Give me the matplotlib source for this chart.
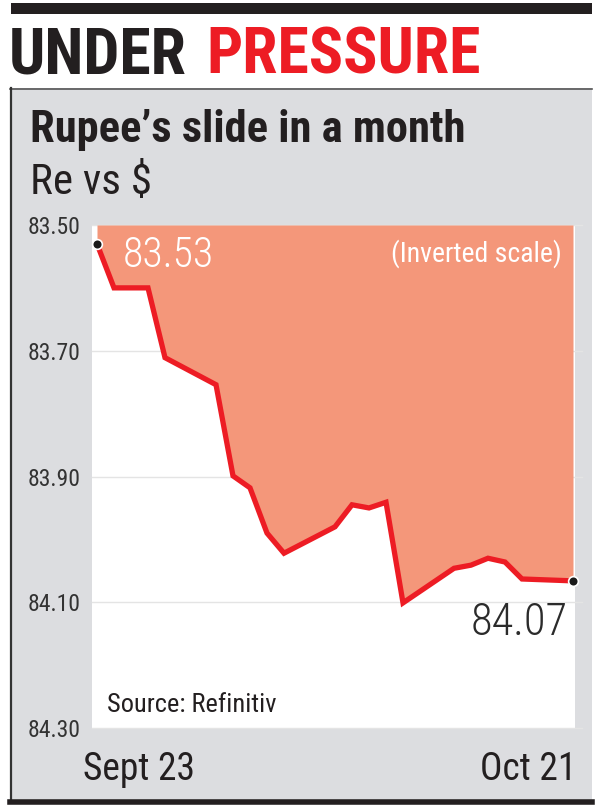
import matplotlib
matplotlib.use('Agg')
import matplotlib.pyplot as plt
from matplotlib.patches import Rectangle
import pandas as pd

# rupee vs dollar, weekdays only (inverted scale)
dates = ['2024-09-23', '2024-09-24', '2024-09-25', '2024-09-26', '2024-09-27',
         '2024-09-30', '2024-10-01', '2024-10-02', '2024-10-03', '2024-10-04',
         '2024-10-07', '2024-10-08', '2024-10-09', '2024-10-10', '2024-10-11',
         '2024-10-14', '2024-10-15', '2024-10-16', '2024-10-17', '2024-10-18',
         '2024-10-21']
rate = [83.530, 83.600, 83.600, 83.600, 83.711,
        83.754, 83.899, 83.918, 83.990, 84.022,
        83.980, 83.945, 83.950, 83.941, 84.101,
        84.046, 84.041, 84.030, 84.036, 84.063,
        84.066]
yticks = [83.50, 83.70, 83.90, 84.10, 84.30]
first_label = 'Sept 23'
last_label = 'Oct 21'

COND = ['Roboto Condensed', 'DejaVu Sans']
DARK = '#231f20'
RED = '#ed1c24'
SALMON = '#f4977a'
GREY = '#dcdde0'

W, H = 600, 808


def fx(px):
    return px / W


def fy(py):
    return 1 - py / H


fig = plt.figure(figsize=(6, 8.08), dpi=100)
fig.patch.set_facecolor('white')

# black rule on top
fig.patches.append(Rectangle((fx(11), fy(14)), fx(592) - fx(11), fy(3) - fy(14),
                             transform=fig.transFigure, facecolor='#231f20',
                             edgecolor='none', zorder=-2))
# grey panel
fig.patches.append(Rectangle((fx(10), fy(802)), fx(592) - fx(10), fy(88) - fy(802),
                             transform=fig.transFigure, facecolor=GREY,
                             edgecolor='none', zorder=-2))
fig.lines.append(plt.Line2D([fx(10), fx(592)], [fy(88.5), fy(88.5)], transform=fig.transFigure,
                            color='#555555', lw=1.2, zorder=-1))
fig.lines.append(plt.Line2D([fx(11), fx(11)], [fy(88), fy(802)], transform=fig.transFigure,
                            color='#333333', lw=1.6, zorder=-1))
fig.lines.append(plt.Line2D([fx(10), fx(592)], [fy(802), fy(802)], transform=fig.transFigure,
                            color='#231f20', lw=4, zorder=-1))

# headline
t1 = fig.text(fx(9), fy(74), 'UNDER', family=COND, weight='bold', fontsize=46,
              color=DARK, va='baseline', ha='left')
fig.canvas.draw()
bb = t1.get_window_extent()
fig.text((bb.x1 + 20) / W, fy(74), 'PRESSURE', family=COND, weight='bold', fontsize=46,
         color=RED, va='baseline', ha='left')

fig.text(fx(30), fy(142), 'Rupee\u2019s slide in a month', family=COND, weight='bold',
         fontsize=32, color=DARK, va='baseline')
fig.text(fx(30), fy(194), 'Re vs $', family=COND, fontsize=31, color=DARK, va='baseline')

# chart area
ax = fig.add_axes([fx(92), fy(728), fx(575) - fx(92), fy(225) - fy(728)])
ax.set_facecolor('white')
x = pd.to_datetime(dates)
ax.fill_between(x, rate, yticks[0], color=SALMON, lw=0, zorder=2)
ax.plot(x, rate, color=RED, lw=3.8, solid_joinstyle='miter', zorder=3)
ax.plot([x[0], x[-1]], [rate[0], rate[-1]], 'o', ms=7, color='#1a1a1a',
        mec='white', mew=1.2, zorder=4, clip_on=False)

day = pd.Timedelta(days=1)
ax.set_xlim(x[0] - day * (5 / 17), x[-1] + day * (2 / 17))
ax.set_ylim(yticks[-1], yticks[0])

for v in yticks:
    ax.axhline(v, xmin=0, xmax=1.015, color='#e4e4e4', lw=1, zorder=1, clip_on=False)

ax.set_yticks(yticks)
ax.set_yticklabels(['%.2f' % v for v in yticks], family=COND, fontsize=17, color='#333333')
ax.tick_params(axis='y', length=0, pad=8)
ax.set_xticks([])
for s in ax.spines.values():
    s.set_visible(False)

ax.annotate('%.2f' % rate[0], xy=(x[0], rate[0]), xytext=(26, -23), textcoords='offset pixels',
            family=COND, weight='light', fontsize=30, color='white', ha='left', va='baseline',
            zorder=5)
ax.annotate('%.2f' % rate[-1], xy=(x[-1], rate[-1]), xytext=(-5, -54), textcoords='offset pixels',
            family=COND, weight='light', fontsize=32, color='#2b2b2b', ha='right', va='baseline',
            zorder=5)

ax.text((562 - 92) / 483, (728 - 262) / 503, '(Inverted scale)', transform=ax.transAxes,
        family=COND, fontsize=20, color='white', ha='right', va='baseline', zorder=5)
ax.text((107 - 92) / 483, (728 - 712) / 503, 'Source: Refinitiv', transform=ax.transAxes,
        family=COND, fontsize=19, color=DARK, ha='left', va='baseline', zorder=5)

ax.text((83 - 92) / 483, (728 - 780) / 503, first_label, transform=ax.transAxes,
        family=COND, fontsize=27, color=DARK, ha='left', va='baseline', clip_on=False)
ax.text((576 - 92) / 483, (728 - 780) / 503, last_label, transform=ax.transAxes,
        family=COND, fontsize=27, color=DARK, ha='right', va='baseline', clip_on=False)

fig.savefig('out.png', dpi=100)
